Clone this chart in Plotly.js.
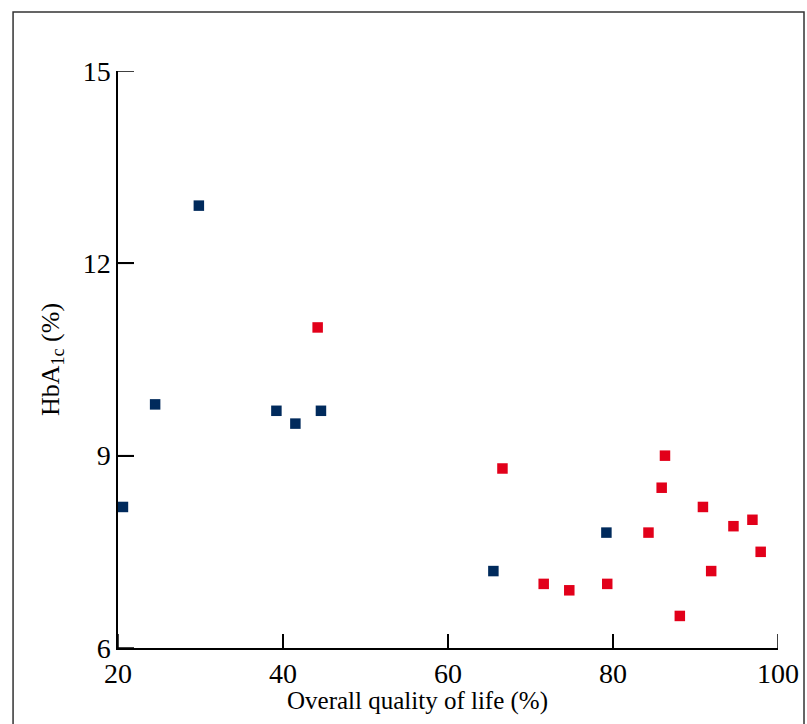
<!DOCTYPE html>
<html>
<head>
<meta charset="utf-8">
<script src="https://cdn.plot.ly/plotly-3.0.1.min.js"></script>
<style>html,body{margin:0;padding:0;background:#fff;}</style>
</head>
<body>
<div id="chart" style="width:807px;height:724px;"></div>
<script>
// Group 1 (navy squares)
var navyX = [20.6, 24.5, 29.8, 39.2, 41.5, 44.6, 65.5, 79.2];
var navyY = [8.2, 9.8, 12.9, 9.7, 9.5, 9.7, 7.2, 7.8];
// Group 2 (red squares)
var redX = [44.2, 66.6, 71.6, 74.7, 79.3, 84.3, 85.9, 86.3, 88.1, 90.9, 91.9, 94.6, 96.9, 97.9];
var redY = [11.0, 8.8, 7.0, 6.9, 7.0, 7.8, 8.5, 9.0, 6.5, 8.2, 7.2, 7.9, 8.0, 7.5];
var xTicks = [20, 40, 60, 80, 100];
var yTicks = [6, 9, 12, 15];
var xTitle = 'Overall quality of life (%)';
var yTitle = 'HbA<sub>1c</sub> (%)';

var FONT = "'Liberation Serif', 'DejaVu Serif', serif";

var traces = [
  {x: navyX, y: navyY, type: 'scatter', mode: 'markers', name: 'navy',
   marker: {symbol: 'square', size: 10.5, color: '#002a5c'}, cliponaxis: false},
  {x: redX, y: redY, type: 'scatter', mode: 'markers', name: 'red',
   marker: {symbol: 'square', size: 10.5, color: '#e2001a'}, cliponaxis: false}
];

// inward tick marks drawn as line shapes anchored at the tick values
var tickShapes = xTicks.map(function (v) {
  return {type: 'line', xref: 'x', yref: 'paper', x0: v, x1: v, y0: 0, y1: 14 / 577,
          line: {color: '#000', width: 1.5}, layer: 'above'};
}).concat(yTicks.map(function (v) {
  return {type: 'line', xref: 'paper', yref: 'y', x0: 0, x1: 16 / 660, y0: v, y1: v,
          line: {color: '#000', width: 1.5}, layer: 'above'};
}));

var layout = {
  width: 807, height: 724,
  margin: {l: 118, r: 29, t: 71, b: 76},
  paper_bgcolor: '#fff', plot_bgcolor: 'rgba(0,0,0,0)',
  showlegend: false,
  font: {family: FONT, color: '#000'},
  xaxis: {
    range: [20, 100], tickmode: 'array', tickvals: xTicks, ticktext: xTicks.map(String),
    showgrid: false, zeroline: false, showline: true, linecolor: '#000', linewidth: 1.5,
    ticks: 'inside', ticklen: 14, tickwidth: 1.5, tickcolor: '#000',
    tickfont: {family: FONT, size: 28, color: '#000'}
  },
  yaxis: {
    range: [6, 15], tickmode: 'array', tickvals: yTicks, ticktext: yTicks.map(String),
    showgrid: false, zeroline: false, showline: true, linecolor: '#000', linewidth: 1.5,
    ticks: 'inside', ticklen: 16, tickwidth: 1.5, tickcolor: '#000',
    tickfont: {family: FONT, size: 28, color: '#000'},
    title: {text: yTitle, font: {family: FONT, size: 26, color: '#000'}, standoff: 16}
  },
  annotations: [
    {text: xTitle, xref: 'paper', yref: 'paper',
     x: 0.4538, y: -0.092, xanchor: 'center', yanchor: 'middle', showarrow: false,
     font: {family: FONT, size: 25, color: '#000'}}
  ],
  shapes: [
    {type: 'rect', xref: 'paper', yref: 'paper', x0: -0.159, x1: 1.0394, y0: -0.2, y1: 1.1023,
     line: {color: '#333', width: 1.5}, fillcolor: 'rgba(0,0,0,0)', layer: 'above'}
  ].concat(tickShapes)
};

Plotly.newPlot('chart', traces, layout, {displayModeBar: false});
</script>
</body>
</html>
